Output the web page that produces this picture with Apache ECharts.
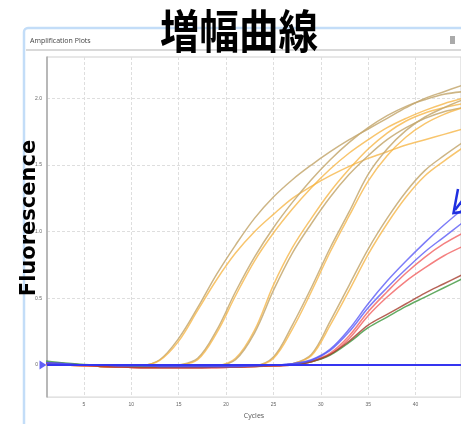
<!DOCTYPE html>
<html>
<head>
<meta charset="utf-8">
<title>増幅曲線</title>
<script src="https://cdn.jsdelivr.net/npm/echarts@6.0.0/dist/echarts.min.js"></script>
<style>
  html, body { margin: 0; padding: 0; background: #fff; }
  #amplificationChart { width: 461px; height: 424px; }
</style>
</head>
<body>
<div id="amplificationChart"></div>
<script>
const cycles = [1, 3, 5, 7, 9, 11, 13, 15, 17, 19, 21, 23, 25, 27, 29, 31, 33, 35, 37, 39, 41, 43, 45]
const xTicks = [5, 10, 15, 20, 25, 30, 35, 40]
const yTicks = [0, 0.5, 1, 1.5, 2]
const threshold = 0

// orange / tan standards (5 dilutions, 2 wells each)
const stdA1 = [0.02, 0.01, 0.0, -0.005, -0.01, -0.005, 0.04, 0.2, 0.43, 0.68, 0.9, 1.1, 1.26, 1.39, 1.5, 1.6, 1.69, 1.77, 1.85, 1.93, 2.0, 2.05, 2.1]
const stdA2 = [0.01, 0.005, 0.0, -0.01, -0.01, -0.005, 0.035, 0.18, 0.41, 0.64, 0.84, 1.0, 1.13, 1.25, 1.34, 1.42, 1.49, 1.55, 1.6, 1.65, 1.69, 1.73, 1.77]
const stdB1 = [0.02, 0.01, 0.0, -0.01, -0.01, -0.01, -0.01, 0.0, 0.05, 0.26, 0.55, 0.81, 1.03, 1.22, 1.39, 1.54, 1.67, 1.78, 1.87, 1.94, 1.99, 2.03, 2.05]
const stdB2 = [0.01, 0.005, 0.0, -0.01, -0.01, -0.01, -0.01, 0.0, 0.04, 0.24, 0.52, 0.78, 0.99, 1.17, 1.33, 1.47, 1.59, 1.69, 1.78, 1.85, 1.91, 1.96, 2.0]
const stdC1 = [0.02, 0.01, 0.0, -0.01, -0.01, -0.015, -0.015, -0.01, -0.01, -0.005, 0.05, 0.26, 0.6, 0.88, 1.1, 1.3, 1.47, 1.62, 1.74, 1.83, 1.89, 1.93, 1.96]
const stdC2 = [0.01, 0.0, -0.005, -0.01, -0.015, -0.015, -0.015, -0.01, -0.01, -0.005, 0.04, 0.24, 0.56, 0.84, 1.06, 1.26, 1.43, 1.57, 1.69, 1.78, 1.85, 1.9, 1.93]
const stdD1 = [0.02, 0.01, 0.0, -0.01, -0.01, -0.015, -0.015, -0.015, -0.01, -0.01, -0.01, -0.005, 0.06, 0.3, 0.58, 0.88, 1.15, 1.43, 1.62, 1.76, 1.86, 1.93, 1.99]
const stdD2 = [0.01, 0.0, -0.005, -0.01, -0.015, -0.015, -0.015, -0.015, -0.01, -0.01, -0.01, -0.005, 0.05, 0.27, 0.55, 0.85, 1.12, 1.38, 1.57, 1.71, 1.81, 1.88, 1.93]
const stdE1 = [0.02, 0.01, 0.0, -0.01, -0.01, -0.015, -0.015, -0.015, -0.015, -0.01, -0.01, -0.01, -0.005, 0.01, 0.08, 0.33, 0.6, 0.87, 1.1, 1.3, 1.46, 1.57, 1.67]
const stdE2 = [0.01, 0.0, -0.005, -0.01, -0.015, -0.015, -0.015, -0.015, -0.015, -0.01, -0.01, -0.01, -0.005, 0.01, 0.07, 0.3, 0.56, 0.83, 1.06, 1.26, 1.42, 1.53, 1.63]

// samples
const blue1 = [0.02, 0.01, 0.0, 0.0, -0.005, -0.005, -0.01, -0.01, -0.01, -0.01, -0.01, -0.005, 0.0, 0.01, 0.04, 0.12, 0.27, 0.46, 0.63, 0.78, 0.92, 1.05, 1.17]
const blue2 = [0.015, 0.01, 0.0, 0.0, -0.005, -0.005, -0.01, -0.01, -0.01, -0.01, -0.01, -0.005, 0.0, 0.01, 0.035, 0.11, 0.25, 0.43, 0.58, 0.72, 0.85, 0.96, 1.07]
const red1 = [0.01, 0.0, -0.005, -0.01, -0.015, -0.02, -0.02, -0.02, -0.02, -0.02, -0.015, -0.01, -0.005, 0.0, 0.03, 0.09, 0.22, 0.4, 0.55, 0.69, 0.81, 0.91, 0.99]
const red2 = [0.01, 0.0, -0.005, -0.01, -0.015, -0.02, -0.02, -0.02, -0.02, -0.02, -0.015, -0.01, -0.005, 0.0, 0.025, 0.08, 0.2, 0.37, 0.51, 0.63, 0.73, 0.82, 0.89]
const red3 = [0.015, 0.005, 0.0, -0.01, -0.015, -0.02, -0.02, -0.02, -0.02, -0.015, -0.015, -0.01, -0.005, 0.0, 0.025, 0.08, 0.18, 0.3, 0.38, 0.46, 0.54, 0.61, 0.68]
const green1 = [0.03, 0.015, 0.005, 0.0, -0.005, -0.01, -0.01, -0.01, -0.01, -0.01, -0.01, -0.005, 0.0, 0.005, 0.025, 0.075, 0.17, 0.28, 0.36, 0.44, 0.51, 0.58, 0.65]

const xMin = 1.1
const xMax = 44.8

const TAN = 'rgba(196, 168, 112, 0.85)'
const ORANGE = 'rgba(246, 178, 60, 0.75)'
const BLUE = 'rgba(80, 80, 245, 0.75)'
const RED = 'rgba(240, 85, 85, 0.75)'
const DARKRED = 'rgba(165, 60, 45, 0.8)'
const GREEN = 'rgba(60, 150, 60, 0.8)'

function curve (name, values, color) {
  return {
    name: name,
    type: 'line',
    showSymbol: false,
    smooth: 0.35,
    lineStyle: { width: 1.5, color: color },
    data: cycles.map((c, i) => [c, values[i]])
  }
}

const chart = echarts.init(document.getElementById('amplificationChart'))

chart.setOption({
  animation: false,
  backgroundColor: '#fff',
  grid: {
    left: 47,
    right: 0,
    top: 57,
    bottom: 23,
    show: true,
    borderColor: '#cfcfcf',
    borderWidth: 1
  },
  xAxis: {
    type: 'value',
    min: xMin,
    max: xMax,
    name: 'Cycles',
    nameLocation: 'middle',
    nameGap: 13,
    nameTextStyle: { fontSize: 7, color: '#555', fontFamily: 'Open Sans' },
    axisLine: { lineStyle: { color: '#a8a8a8', width: 1.5 } },
    axisTick: { show: false, customValues: xTicks },
    axisLabel: { customValues: xTicks, fontSize: 5, color: '#666', margin: 5 },
    splitLine: { show: true, lineStyle: { color: '#dedede', type: [3, 2], width: 1 } }
  },
  yAxis: {
    type: 'value',
    min: -0.24,
    max: 2.31,
    axisLine: { show: true, lineStyle: { color: '#a8a8a8', width: 1.5 } },
    axisTick: { show: false, customValues: yTicks },
    axisLabel: {
      customValues: yTicks,
      fontSize: 5,
      color: '#666',
      margin: 5,
      formatter: v => (Math.abs(v) < 1e-9 ? '{z|0}' : v.toFixed(1)),
      rich: {
        z: { fontSize: 5, color: '#666', padding: [0, 4, 0, 0] }
      }
    },
    splitLine: { show: true, lineStyle: { color: '#dedede', type: [3, 2], width: 1 } }
  },
  graphic: [
    {
      type: 'rect',
      z: -10,
      shape: { x: 24, y: 28, width: 460, height: 420, r: 4 },
      style: { fill: 'none', stroke: '#c3ddf8', lineWidth: 2.5 }
    },
    {
      type: 'line',
      shape: { x1: 26, y1: 50, x2: 461, y2: 50 },
      style: { stroke: '#cdcdcd', lineWidth: 1.5 }
    },
    {
      type: 'text',
      left: 30,
      top: 37,
      style: { text: 'Amplification Plots', fontSize: 7, fill: '#444', fontFamily: 'Open Sans' }
    },
    {
      type: 'rect',
      shape: { x: 450, y: 36, width: 5, height: 8 },
      style: { fill: '#aaa' }
    },
    {
      // blue pointer cut by the right edge
      type: 'polyline',
      z: 100,
      shape: { points: [[458, 189], [453.5, 213], [462, 212]] },
      style: { stroke: '#1f2fe0', lineWidth: 2.5, fill: 'none' }
    },
    {
      type: 'line',
      z: 100,
      shape: { x1: 455, y1: 210, x2: 462, y2: 201 },
      style: { stroke: '#1f2fe0', lineWidth: 2.5 }
    },
    {
      type: 'text',
      z: 100,
      x: 239,
      y: 31,
      scaleX: 0.86,
      style: {
        text: '増幅曲線',
        font: 'bold 46px "Noto Sans CJK JP"',
        fill: '#000',
        align: 'center',
        verticalAlign: 'middle'
      }
    },
    {
      type: 'text',
      z: 100,
      x: 30,
      y: 218,
      rotation: Math.PI / 2,
      style: {
        text: 'Fluorescence',
        font: 'bold 21px "DejaVu Sans"',
        fill: '#000',
        align: 'center',
        verticalAlign: 'middle'
      }
    }
  ],
  series: [
    curve('A1', stdA1, TAN),
    curve('A2', stdA2, ORANGE),
    curve('B1', stdB1, TAN),
    curve('B2', stdB2, ORANGE),
    curve('C1', stdC1, ORANGE),
    curve('C2', stdC2, TAN),
    curve('D1', stdD1, TAN),
    curve('D2', stdD2, ORANGE),
    curve('E1', stdE1, TAN),
    curve('E2', stdE2, ORANGE),
    curve('red1', red1, RED),
    curve('red2', red2, RED),
    curve('green1', green1, GREEN),
    curve('red3', red3, DARKRED),
    curve('blue1', blue1, BLUE),
    curve('blue2', blue2, BLUE),
    {
      name: 'threshold',
      type: 'scatter',
      clip: false,
      z: 5,
      symbol: 'triangle',
      symbolSize: [9, 7],
      symbolRotate: -90,
      symbolOffset: [-4, 0],
      itemStyle: { color: '#3b3bf5' },
      data: [[xMin, threshold]],
      markLine: {
        silent: true,
        symbol: 'none',
        label: { show: false },
        lineStyle: { color: '#3535f0', width: 2, type: 'solid' },
        data: [{ yAxis: threshold }]
      }
    }
  ]
})
</script>
</body>
</html>
